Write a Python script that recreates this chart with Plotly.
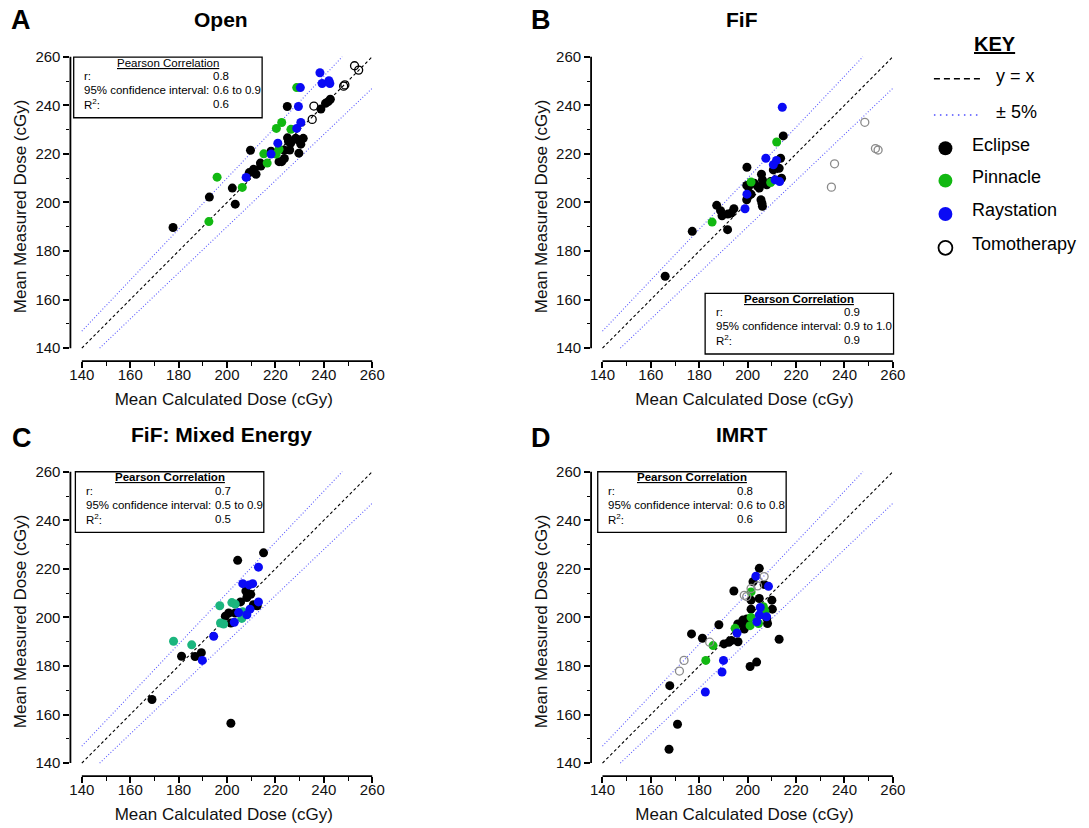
import plotly.graph_objects as go

W, H = 1089, 828
FONT = "Liberation Sans, Arial, sans-serif"

# ---------------------------------------------------------------------------
# Mean calculated dose (x) vs mean measured dose (y), cGy, per planning system
# ---------------------------------------------------------------------------
# Open
open_eclipse_x = [177.7, 192.7, 202.2, 203.4, 209.7, 209.2, 211.0, 212.0, 213.8, 214.0,
                  218.2, 221.5, 222.6, 223.7, 223.6, 225.0, 225.4, 226.3, 225.9, 224.9,
                  228.4, 229.3, 229.7, 230.5, 231.5, 238.8, 240.7, 241.8, 242.7]
open_eclipse_y = [189.7, 202.2, 205.9, 199.3, 221.5, 212.3, 213.7, 211.6, 216.2, 215.0,
                  221.1, 216.8, 216.8, 218.1, 221.6, 226.6, 225.1, 224.4, 221.6, 239.5,
                  226.4, 225.8, 220.3, 224.0, 226.4, 238.5, 240.8, 241.5, 242.5]
open_pinnacle_x = [192.5, 195.9, 206.3, 215.2, 216.6, 220.3, 221.5, 220.4, 222.6, 226.4, 228.8]
open_pinnacle_y = [192.1, 210.4, 206.2, 220.0, 216.2, 219.9, 221.9, 230.5, 232.9, 230.1, 247.3]
open_raystation_x = [207.9, 218.2, 221.0, 228.8, 230.5, 229.5, 230.3, 238.4, 239.3, 242.1, 242.5]
open_raystation_y = [210.3, 219.9, 224.4, 230.5, 232.9, 239.5, 247.3, 253.4, 249.0, 250.1, 249.0]
open_tomo_x = [235.9, 235.2, 248.2, 248.7, 252.7, 254.4]
open_tomo_y = [239.7, 234.2, 247.9, 248.4, 256.3, 254.5]

# FiF
fif_eclipse_x = [165.9, 177.1, 187.2, 188.8, 189.4, 191.8, 193.2, 194.3, 191.7, 199.7,
                 199.6, 199.6, 201.4, 200.3, 202.7, 204.1, 204.8, 205.7, 206.1, 206.8,
                 207.9, 205.5, 205.9, 206.1, 210.6, 211.6, 213.0, 213.6, 213.6, 214.0,
                 214.7, 209.5]
fif_eclipse_y = [169.6, 188.1, 198.8, 196.6, 194.5, 195.2, 195.6, 197.4, 188.8, 214.5,
                 207.0, 201.1, 203.4, 206.3, 207.9, 206.6, 205.9, 211.6, 209.3, 207.9,
                 207.3, 201.1, 199.7, 198.4, 213.4, 214.8, 214.1, 218.2, 209.6, 210.0,
                 227.4, 208.6]
fif_pinnacle_x = [185.3, 201.4, 209.5, 212.0]
fif_pinnacle_y = [191.9, 208.4, 208.2, 224.9]
fif_raystation_x = [198.9, 199.7, 207.5, 210.6, 211.9, 211.3, 213.2, 214.3]
fif_raystation_y = [197.4, 203.4, 218.2, 215.5, 217.3, 209.3, 208.6, 239.2]
fif_tomo_x = [248.4, 235.9, 234.6, 252.8, 253.9]
fif_tomo_y = [233.0, 215.9, 206.3, 222.2, 221.6]

# FiF: Mixed Energy
mix_eclipse_x = [169.0, 181.2, 186.8, 189.4, 204.4, 215.1, 201.6, 199.3, 200.7, 201.6,
                 203.4, 205.6, 207.8, 208.2, 209.8, 210.9, 212.5, 211.8]
mix_eclipse_y = [166.2, 184.0, 183.9, 185.5, 223.5, 226.6, 156.4, 200.5, 201.8, 197.7,
                 201.8, 206.4, 210.9, 208.2, 209.5, 205.2, 204.8, 205.0]
mix_pinnacle_x = [177.9, 185.4, 197.0, 197.3, 198.6, 202.0, 203.4, 206.5, 206.1]
mix_pinnacle_y = [190.2, 188.7, 204.8, 197.7, 197.3, 206.1, 205.5, 202.3, 199.6]
mix_raystation_x = [189.8, 194.5, 203.0, 206.5, 209.1, 210.6, 213.0, 209.5, 208.2, 213.0, 204.8]
mix_raystation_y = [182.3, 192.2, 198.0, 213.9, 213.4, 213.9, 220.7, 203.4, 201.1, 206.4, 202.0]
mix_tomo_x = []
mix_tomo_y = []

# IMRT
imrt_eclipse_x = [167.5, 171.0, 167.8, 176.8, 181.3, 188.1, 190.2, 192.2, 193.2, 196.0,
                  194.3, 195.9, 198.0, 198.6, 200.0, 198.6, 201.0, 203.7, 204.8, 202.2,
                  201.4, 201.4, 204.8, 206.8, 210.0, 210.2, 207.9, 208.2, 213.0, 199.6]
imrt_eclipse_y = [145.7, 156.0, 171.9, 193.2, 191.4, 197.0, 189.1, 189.8, 190.5, 190.0,
                  210.9, 197.3, 198.9, 197.3, 198.0, 195.2, 179.8, 181.6, 220.2, 214.7,
                  207.1, 203.4, 207.8, 213.6, 207.1, 203.4, 199.7, 197.5, 191.0, 199.3]
imrt_pinnacle_x = [182.7, 185.7, 194.8, 201.4, 201.4, 201.0, 204.5, 206.5, 207.1]
imrt_pinnacle_y = [182.3, 188.4, 195.5, 210.5, 200.0, 196.6, 197.5, 204.4, 202.7]
imrt_raystation_x = [182.5, 189.4, 190.0, 195.6, 203.4, 208.6, 205.2, 204.8, 203.8, 207.8]
imrt_raystation_y = [169.3, 177.5, 182.3, 193.6, 217.0, 212.8, 204.1, 201.0, 198.2, 200.3]
imrt_tomo_x = [171.8, 173.7, 184.3, 198.6, 199.6, 201.4, 204.1, 206.8]
imrt_tomo_y = [177.9, 182.3, 189.8, 209.1, 208.6, 211.9, 213.0, 216.8]

# Pearson correlation summaries
panel_letters = ["A", "B", "C", "D"]
panel_titles = ["Open", "FiF", "FiF: Mixed Energy", "IMRT"]
pearson_r = ["0.8", "0.9", "0.7", "0.8"]
pearson_ci = ["0.6 to 0.9", "0.9 to 1.0", "0.5 to 0.9", "0.6 to 0.8"]
pearson_r2 = ["0.6", "0.9", "0.5", "0.6"]

systems = ["Eclipse", "Pinnacle", "Raystation", "Tomotherapy"]
x_title = "Mean Calculated Dose (cGy)"
y_title = "Mean Measured Dose (cGy)"

panel_data = [
    [(open_eclipse_x, open_eclipse_y), (open_pinnacle_x, open_pinnacle_y),
     (open_raystation_x, open_raystation_y), (open_tomo_x, open_tomo_y)],
    [(fif_eclipse_x, fif_eclipse_y), (fif_pinnacle_x, fif_pinnacle_y),
     (fif_raystation_x, fif_raystation_y), (fif_tomo_x, fif_tomo_y)],
    [(mix_eclipse_x, mix_eclipse_y), (mix_pinnacle_x, mix_pinnacle_y),
     (mix_raystation_x, mix_raystation_y), (mix_tomo_x, mix_tomo_y)],
    [(imrt_eclipse_x, imrt_eclipse_y), (imrt_pinnacle_x, imrt_pinnacle_y),
     (imrt_raystation_x, imrt_raystation_y), (imrt_tomo_x, imrt_tomo_y)],
]

tick_vals = [140, 160, 180, 200, 220, 240, 260]
axis_min, axis_max = 140, 260
tolerance = 0.05

# ---------------------------------------------------------------------------
# Layout geometry (pixels)
# ---------------------------------------------------------------------------
S = 2.44                      # pixels per cGy
X_OFF, Y_OFF, PAD = 11.5, 13.0, 5.0
# pixel position of the 140 cGy x-tick and 260 cGy y-tick of each panel
origins = [(81.5, 53.0), (606.5, 53.0), (81.5, 470.0), (606.5, 470.0)]
title_dx = -6
letter_pos = [(20, 20), (545, 20), (21, 440), (544, 440)]
# Pearson box: (left, top) in pixels
box_pos = [(73.3, 53.3), (710.0, 290.7), (75.0, 470.0), (601.7, 470.0)]
BOX_W, BOX_H = 190, 61
TEXT_DY = -3.5                # visual centring of middle-anchored text


def fx(p):
    return p / W


def fy(p):
    return 1 - p / H


def note(text, x, y, size, anchor="center", **kw):
    return dict(text=text, x=fx(x), y=fy(y + TEXT_DY), xref="paper", yref="paper",
                showarrow=False, xanchor=anchor, yanchor="middle",
                font=dict(family=FONT, size=size, color=kw.pop("color", "black")), **kw)


green_main = "#12b812"
green_mixed = "#1bb57e"
blue = "#0a0af5"

fig = go.Figure()
shapes = []
annotations = []

for i in range(4):
    sfx = "" if i == 0 else str(i + 1)
    xa, ya = "x" + sfx, "y" + sfx
    x140, y260 = origins[i]

    x_lo = axis_min - X_OFF / S
    x_hi = axis_max + PAD / S
    y_lo = axis_min - Y_OFF / S
    y_hi = axis_max + PAD / S
    left = x140 - X_OFF
    right = x140 + (axis_max - axis_min) * S + PAD
    top = y260 - PAD
    bottom = y260 + (axis_max - axis_min) * S + Y_OFF

    axis_common = dict(
        tickvals=tick_vals, ticks="outside", ticklen=6, tickwidth=1.6, tickcolor="black",
        showgrid=False, zeroline=False, showline=False,
        tickfont=dict(family=FONT, size=15, color="#111"),
        minor=dict(dtick=10, tick0=140, ticks="outside", ticklen=3.5, tickwidth=1.4,
                   tickcolor="black", showgrid=False),
    )
    fig.layout["xaxis" + sfx] = dict(
        axis_common, domain=[fx(left), fx(right)], range=[x_lo, x_hi], anchor=ya,
        ticklabelstandoff=-6,
        title=dict(text=x_title, standoff=11, font=dict(family=FONT, size=17, color="#111")))
    fig.layout["yaxis" + sfx] = dict(
        axis_common, domain=[fy(bottom), fy(top)], range=[y_lo, y_hi], anchor=xa,
        title=dict(text=y_title, standoff=4, font=dict(family=FONT, size=17, color="#111")))

    # axis spines spanning the tick range only
    shapes.append(dict(type="line", xref=xa, yref=ya + " domain", x0=axis_min, x1=axis_max,
                       y0=0, y1=0, line=dict(color="black", width=1.8)))
    shapes.append(dict(type="line", xref=xa + " domain", yref=ya, x0=0, x1=0,
                       y0=axis_min, y1=axis_max, line=dict(color="black", width=1.8)))

    # y = x and +/- 5% reference lines
    fig.add_trace(go.Scatter(x=[axis_min, axis_max], y=[axis_min, axis_max], mode="lines",
                             line=dict(color="black", width=1.1, dash="3px,2.5px"),
                             xaxis=xa, yaxis=ya, showlegend=False, hoverinfo="skip"))
    fig.add_trace(go.Scatter(x=[axis_min, axis_max / (1 + tolerance)],
                             y=[axis_min * (1 + tolerance), axis_max], mode="lines",
                             line=dict(color="#5c5cff", width=1.1, dash="1px,2px"),
                             xaxis=xa, yaxis=ya, showlegend=False, hoverinfo="skip"))
    fig.add_trace(go.Scatter(x=[axis_min / (1 - tolerance), axis_max],
                             y=[axis_min, axis_max * (1 - tolerance)], mode="lines",
                             line=dict(color="#5c5cff", width=1.1, dash="1px,2px"),
                             xaxis=xa, yaxis=ya, showlegend=False, hoverinfo="skip"))

    green = green_mixed if i == 2 else green_main
    tomo_edge = "black" if i == 0 else "#8a8a8a"
    styles = [
        dict(color="black", size=9),
        dict(color=green, size=9),
        dict(color=blue, size=9),
        dict(size=8, symbol="circle-open", color=tomo_edge,
             line=dict(color=tomo_edge, width=1.3)),
    ]
    for (xs, ys), name, mk in zip(panel_data[i], systems, styles):
        if not xs:
            continue
        fig.add_trace(go.Scatter(x=xs, y=ys, mode="markers", name=name, marker=mk,
                                 xaxis=xa, yaxis=ya, showlegend=False, cliponaxis=False))

    # panel title and letter
    cx = x140 + (axis_max - axis_min) * S / 2
    annotations.append(note("<b>%s</b>" % panel_titles[i], cx + title_dx, y260 - 34, 21))
    lx, ly = letter_pos[i]
    annotations.append(note("<b>%s</b>" % panel_letters[i], lx, ly, 27))

    # Pearson correlation box
    bl, bt = box_pos[i]
    shapes.append(dict(type="rect", xref="paper", yref="paper", x0=fx(bl), x1=fx(bl + BOX_W),
                       y0=fy(bt + BOX_H), y1=fy(bt), line=dict(color="black", width=1.3),
                       fillcolor="white", layer="above"))
    head = "<u>Pearson Correlation</u>" if i == 0 else "<b><u>Pearson Correlation</u></b>"
    annotations.append(note(head, bl + BOX_W / 2, bt + 9, 11.5))
    rows = [("r:", pearson_r[i]), ("95% confidence interval:", pearson_ci[i]),
            ("R<sup>2</sup>:", pearson_r2[i])]
    for k, (lab, val) in enumerate(rows):
        yy = bt + 22.5 + 14 * k
        annotations.append(note(lab, bl + 8.5, yy, 11.5, anchor="left"))
        annotations.append(note(val, bl + 138.5, yy, 11.5, anchor="left"))

# ---------------------------------------------------------------------------
# Key
# ---------------------------------------------------------------------------
annotations.append(note("<b><u>KEY</u></b>", 1002.7, 43.5, 20))
shapes.append(dict(type="line", xref="paper", yref="paper", x0=fx(940.7), x1=fx(988.3),
                   y0=fy(75), y1=fy(75), line=dict(color="black", width=1.5, dash="6px,4px")))
annotations.append(note("y = x", 1001.7, 76, 18, anchor="left"))
shapes.append(dict(type="line", xref="paper", yref="paper", x0=fx(940.7), x1=fx(986),
                   y0=fy(111.5), y1=fy(111.5),
                   line=dict(color="#4d4dff", width=1.4, dash="1.5px,4.5px")))
annotations.append(note("± 5%", 1001.7, 112, 18, anchor="left"))
key_rows = [("Eclipse", "black", "black"), ("Pinnacle", green_main, green_main),
            ("Raystation", blue, blue), ("Tomotherapy", "white", "black")]
key_y = [145, 177.5, 211, 245]
R = 7
for (label, fill, edge), yy in zip(key_rows, key_y):
    shapes.append(dict(type="circle", xref="paper", yref="paper",
                       x0=fx(952.3 - R), x1=fx(952.3 + R), y0=fy(yy + R), y1=fy(yy - R),
                       fillcolor=fill, line=dict(color=edge, width=1.8 if fill == "white" else 0)))
    annotations.append(note(label, 976.7, yy, 18, anchor="left"))

fig.update_layout(
    width=W, height=H,
    margin=dict(l=0, r=0, t=0, b=0),
    paper_bgcolor="white", plot_bgcolor="white",
    showlegend=False,
    shapes=shapes,
    annotations=annotations,
    font=dict(family=FONT),
)

fig.write_html("out.html")
